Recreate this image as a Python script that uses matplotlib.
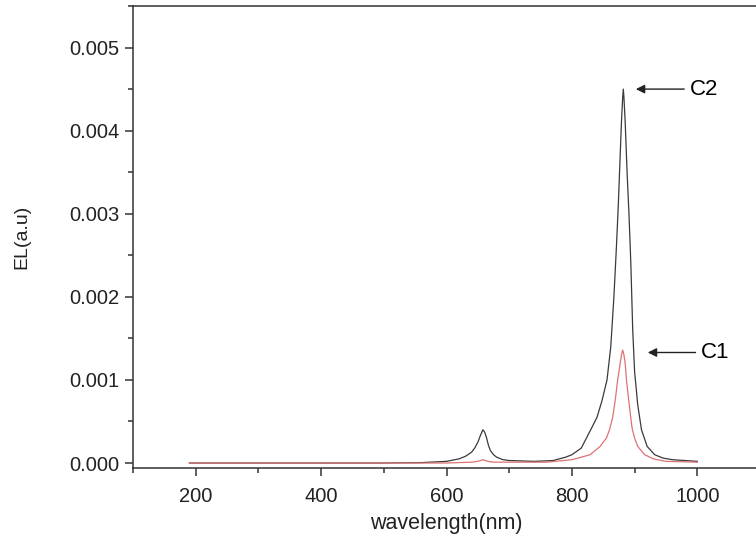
import matplotlib
matplotlib.use("Agg")
import matplotlib.pyplot as plt
from matplotlib.ticker import MultipleLocator

plt.rcParams['font.family'] = ['Liberation Sans', 'DejaVu Sans']

# C2 (black) spectrum
wl_c2 = [190, 300, 400, 500, 560, 600, 620, 630, 640, 645, 650, 654, 658, 661, 664, 667,
         670, 675, 680, 690, 700, 740, 770, 790, 800, 815, 830, 840, 848, 856, 862, 867,
         871, 874, 877, 879, 881, 882, 883, 885, 888, 891, 894, 897, 900, 905, 911, 920,
         932, 945, 960, 980, 1000]
el_c2 = [0, 0, 0, 0, 0.000005, 0.00002, 0.00005, 0.00008, 0.00013, 0.00018, 0.00025,
         0.00033, 0.0004, 0.00037, 0.0003, 0.00021, 0.00015, 0.0001, 0.00007, 0.00004,
         0.00003, 0.00002, 0.00003, 0.00007, 0.0001, 0.00018, 0.0004, 0.00055, 0.00075,
         0.001, 0.0014, 0.002, 0.0026, 0.0031, 0.0037, 0.0041, 0.0044, 0.0045, 0.0044,
         0.0041, 0.0035, 0.003, 0.0024, 0.0016, 0.0011, 0.0007, 0.0004, 0.0002, 0.0001,
         0.00006, 0.00004, 0.00003, 0.00002]

# C1 (red) spectrum
wl_c1 = [190, 300, 400, 500, 600, 640, 650, 658, 666, 675, 760, 800, 815, 829, 845, 855,
         860, 865, 869, 873, 877, 879, 881, 883, 885, 887, 890, 893, 896, 900, 905, 916,
         930, 950, 1000]
el_c1 = [0, 0, 0, 0, 0, 0.00001, 0.00002, 0.00004, 0.00002, 0.00001, 0.00001, 0.00004,
         0.00007, 0.0001, 0.0002, 0.0003, 0.0004, 0.00055, 0.00075, 0.001, 0.0012, 0.0013,
         0.00136, 0.0013, 0.0012, 0.001, 0.0008, 0.0006, 0.00042, 0.0003, 0.0002, 0.0001,
         0.00005, 0.00002, 0.00001]

fig = plt.figure(figsize=(7.56, 5.41), dpi=100)

ax = fig.add_axes([133/756, 1 - 468/541, 627/756, 462/541])

ax.plot(wl_c2, el_c2, color="#3a3a3a", lw=0.9)
ax.plot(wl_c1, el_c1, color="#dd7272", lw=0.9)

ax.set_xlim(100, 1100)
ax.set_ylim(-0.00006, 0.0055)
ax.xaxis.set_major_locator(MultipleLocator(200))
ax.xaxis.set_minor_locator(MultipleLocator(100))
ax.yaxis.set_major_locator(MultipleLocator(0.001))
ax.yaxis.set_minor_locator(MultipleLocator(0.0005))
ax.yaxis.set_major_formatter(matplotlib.ticker.FormatStrFormatter('%.3f'))

for s in ax.spines.values():
    s.set_color("#333333")
    s.set_linewidth(1.1)
ax.spines['right'].set_visible(False)
ax.tick_params(which='major', direction='out', length=6, width=1.1, color="#333333",
               labelsize=14.5, labelcolor="#222222")
ax.tick_params(which='minor', direction='out', length=3.5, width=1.1, color="#333333")
ax.tick_params(axis='x', pad=8)

ax.set_xlabel("wavelength(nm)", fontsize=15.5, color="#222222", labelpad=5)
ax.set_ylabel("EL(a.u)", fontsize=14, color="#222222", labelpad=28)

ax.annotate("C2", xy=(902, 0.0045), xytext=(988, 0.0045), fontsize=16, va="center",
            arrowprops=dict(arrowstyle="-|>", color="#222222", lw=1.0,
                            mutation_scale=13, shrinkA=2, shrinkB=0))
ax.annotate("C1", xy=(921, 0.00133), xytext=(1006, 0.00133), fontsize=16, va="center",
            arrowprops=dict(arrowstyle="-|>", color="#222222", lw=1.0,
                            mutation_scale=13, shrinkA=2, shrinkB=0))

fig.savefig("out.png", dpi=100)
